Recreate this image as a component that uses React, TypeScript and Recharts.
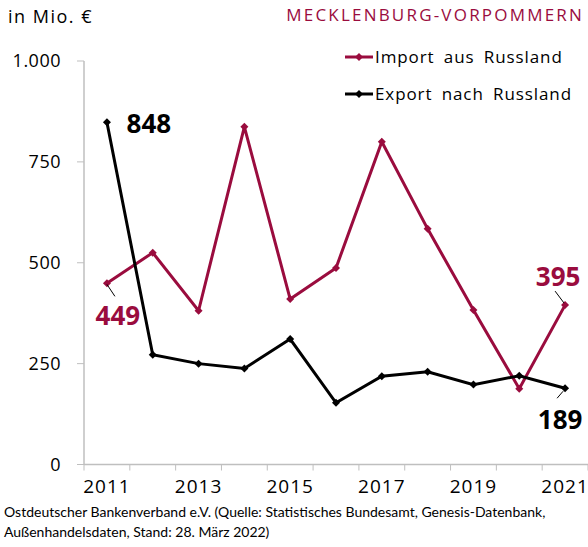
import React from 'react';
import { LineChart, Line, XAxis, YAxis, LabelList } from 'recharts';

const years = ['2011', '2012', '2013', '2014', '2015', '2016', '2017', '2018', '2019', '2020', '2021'];
const importValues = [449, 525, 381, 837, 410, 487, 800, 584, 383, 188, 395];
const exportValues = [848, 272, 250, 238, 311, 153, 219, 230, 198, 220, 189];
const yTicks = [0, 250, 500, 750, 1000];
const seriesNames = ['Import aus Russland', 'Export nach Russland'];

const RED = '#9a0c3e';
const AXIS = '#bfbfbf';
const FONT = '"Open Sans", sans-serif';

const W = 588;
const H = 547;
const Y_AXIS_W = 84;
const BAND = (W - Y_AXIS_W) / years.length;

const data = years.map((year, i) => ({
    year,
    importRu: importValues[i],
    exportRu: exportValues[i],
}));

const fmt = (v: number) => v.toLocaleString('de-DE');

const Diamond = (props: any) => {
    const { cx, cy, fill } = props;
    if (cx == null || cy == null) return null;
    const s = 4;
    return <path d={`M${cx},${cy - s}L${cx + s},${cy}L${cx},${cy + s}L${cx - s},${cy}Z`} fill={fill} />;
};

// x ticks: mark at the left edge of every band, label every second year
const XTick = (props: any) => {
    const { x, y, payload, index } = props;
    const left = x - BAND / 2;
    const isLast = index === years.length - 1;
    return (
        <g>
            <line x1={left} y1={y - 8} x2={left} y2={y - 2} stroke={AXIS} strokeWidth={1} />
            {isLast && <line x1={left + BAND} y1={y - 8} x2={left + BAND} y2={y - 2} stroke={AXIS} strokeWidth={1} />}
            {index % 2 === 0 && (
                <text x={x} y={y + 20} textAnchor="middle" fontSize={19} fontFamily={FONT} fill="#000" letterSpacing={1}>
                    {payload.value}
                </text>
            )}
        </g>
    );
};

const YTick = (props: any) => {
    const { x, y, payload } = props;
    return (
        <text x={x} y={y} dy={6} textAnchor="end" fontSize={18} fontFamily={FONT} fill="#000" letterSpacing={0.5}>
            {fmt(payload.value)}
        </text>
    );
};

// labels with leader lines, only at the ends of each series
const makeEndLabel = (color: string, cfg: Record<number, { dx: number; dy: number; line?: [number, number, number, number] }>) =>
    (props: any) => {
        const { x, y, value, index } = props;
        const c = cfg[index];
        if (!c) return null;
        return (
            <g>
                {c.line && (
                    <line x1={x + c.line[0]} y1={y + c.line[1]} x2={x + c.line[2]} y2={y + c.line[3]} stroke="#000" strokeWidth={1} />
                )}
                <text x={x + c.dx} y={y + c.dy} dy={9} textAnchor="middle" fontSize={26} fontWeight="bold" fontFamily={FONT} fill={color}>
                    {value}
                </text>
            </g>
        );
    };

const importLabel = makeEndLabel(RED, {
    0: { dx: 11, dy: 33, line: [0, 1, 8, 13] },
    10: { dx: -7, dy: -28, line: [-1, -2, -10, -14] },
});
const exportLabel = makeEndLabel('#000', {
    0: { dx: 42, dy: 2 },
    10: { dx: -5, dy: 32, line: [-2, 3, -8, 10] },
});

const LegendBox = () => {
    const colors = [RED, '#000'];
    return (
        <div style={{ position: 'absolute', left: 343, top: 38, fontFamily: FONT }}>
            {seriesNames.map((name, i) => (
                <div key={name} style={{ display: 'flex', alignItems: 'center', height: 37 }}>
                    <svg width={32} height={10}>
                        <line x1={2} y1={5} x2={30} y2={5} stroke={colors[i]} strokeWidth={3} />
                        <Diamond cx={16} cy={5} fill={colors[i]} />
                    </svg>
                    <span style={{ fontSize: 17, letterSpacing: 0.9, wordSpacing: 4, color: '#000', whiteSpace: 'nowrap' }}>{name}</span>
                </div>
            ))}
        </div>
    );
};

export default function App() {
    return (
        <div style={{ position: 'absolute', left: 0, top: 0, width: W, height: H, background: '#fff', fontFamily: FONT }}>
            <div style={{ position: 'absolute', left: 8, top: 4, fontSize: 18, letterSpacing: 1.5 }}>in Mio. €</div>
            <div style={{ position: 'absolute', right: 4, top: 3, fontSize: 17, letterSpacing: 2.2, color: RED }}>
                MECKLENBURG-VORPOMMERN
            </div>
            <LegendBox />
            <LineChart width={W} height={H} data={data} margin={{ top: 61, right: 0, bottom: 0, left: 0 }}>
                <XAxis
                    dataKey="year"
                    type="category"
                    interval={0}
                    height={82.5}
                    padding={{ left: BAND / 2, right: BAND / 2 }}
                    axisLine={{ stroke: AXIS, strokeWidth: 1.5 }}
                    tickLine={false}
                    tick={<XTick />}
                />
                <YAxis
                    type="number"
                    domain={[0, 1000]}
                    ticks={yTicks}
                    width={Y_AXIS_W}
                    axisLine={{ stroke: AXIS, strokeWidth: 1.5 }}
                    tickLine={{ stroke: AXIS }}
                    tickSize={7}
                    tickMargin={16}
                    tick={<YTick />}
                />
                <Line
                    name={seriesNames[0]}
                    dataKey="importRu"
                    stroke={RED}
                    strokeWidth={3}
                    dot={<Diamond fill={RED} />}
                    activeDot={false}
                    isAnimationActive={false}
                >
                    <LabelList dataKey="importRu" content={importLabel} />
                </Line>
                <Line
                    name={seriesNames[1]}
                    dataKey="exportRu"
                    stroke="#000"
                    strokeWidth={3}
                    dot={<Diamond fill="#000" />}
                    activeDot={false}
                    isAnimationActive={false}
                >
                    <LabelList dataKey="exportRu" content={exportLabel} />
                </Line>
            </LineChart>
            <div style={{ position: 'absolute', left: 4, top: 502, fontSize: 14, lineHeight: '20px', fontFamily: 'Lato, sans-serif', color: '#000' }}>
                Ostdeutscher Bankenverband e.V. (Quelle: Statistisches Bundesamt, Genesis-Datenbank,
                <br />
                Außenhandelsdaten, Stand: 28. März 2022)
            </div>
        </div>
    );
}
